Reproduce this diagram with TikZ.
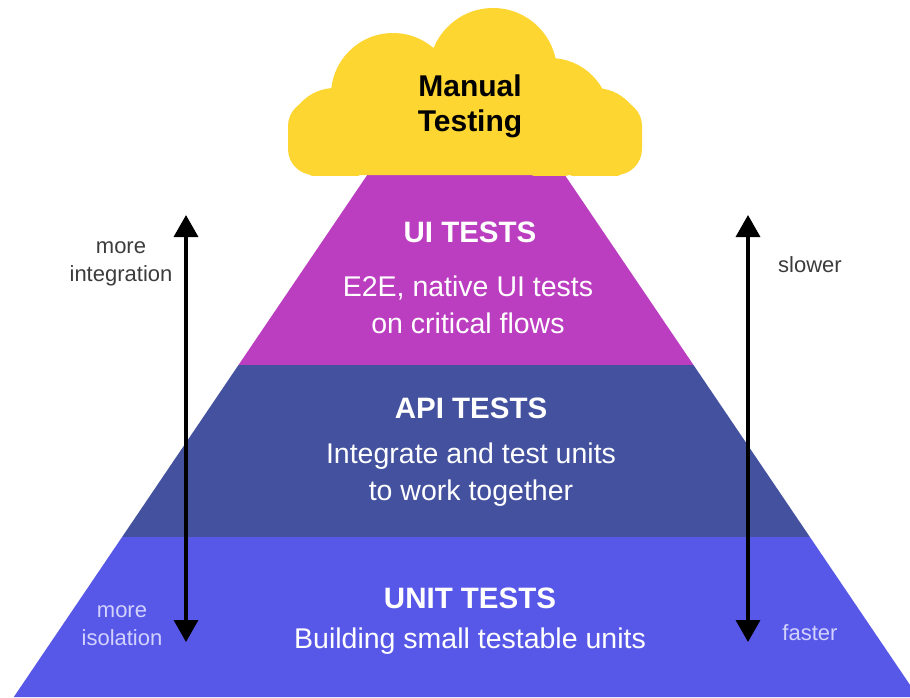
\documentclass[tikz,border=0pt]{standalone}
\usepackage{fontspec}
\setmainfont{Liberation Sans}
\definecolor{cloudyellow}{RGB}{253,214,50}
\definecolor{uimagenta}{RGB}{187,61,192}
\definecolor{apinavy}{RGB}{67,81,158}
\definecolor{unitblue}{RGB}{88,88,232}
\definecolor{sidegray}{RGB}{60,60,60}
\definecolor{sidelilac}{RGB}{210,210,255}
\tikzset{
    layertitle/.style={font=\bfseries\fontsize{29.5}{32}\selectfont, text=white},
    layertext/.style={font=\fontsize{28.5}{37}\selectfont, text=white, align=center},
    cloudtext/.style={font=\bfseries\fontsize{30}{35}\selectfont, text=black, align=center},
    sidelabel/.style={font=\fontsize{22}{28}\selectfont, align=center},
    scalearrow/.style={line width=3.5pt, {Triangle[width=24pt,length=22pt]}-{Triangle[width=24pt,length=22pt]}},
}
\usetikzlibrary{arrows.meta}
\usetikzlibrary{positioning}

\begin{document}
\begin{tikzpicture}[x=1pt,y=-1pt]
\useasboundingbox (0,0) rectangle (910,697);
\clip (0,0) rectangle (910,697);
% pyramid layers
\fill[uimagenta] (367.2,175) -- (564.8,175) -- (693.5,365) -- (238.5,365) -- cycle;
\fill[apinavy] (238.5,365) -- (693.5,365) -- (809.9,537) -- (122.1,537) -- cycle;
\fill[unitblue] (122.1,537) -- (809.9,537) -- (918.2,697) -- (13.8,697) -- cycle;
% cloud
\begin{scope}
\clip (280,0) rectangle (650,175);
\fill[cloudyellow, rounded corners=26pt] (288,100) rectangle (642,175);
\fill[cloudyellow] (335,135) circle (47) (393,95) circle (62) (493,72) circle (64)
    (550,118) circle (60) (595,135) circle (47);
\end{scope}
\node[cloudtext] (manual) at (470,106) {Manual\\Testing};
% layer texts
\node[layertitle] (uititle) at (470,232) {UI TESTS};
\node[layertext] (uitext) at (468,305) {E2E, native UI tests\\on critical flows};
\node[layertitle] (apititle) at (471,408) {API TESTS};
\node[layertext] (apitext) at (471,475) {Integrate and test units\\to work together};
\node[layertitle] (unittitle) at (470,598) {UNIT TESTS};
\node[layertext] (unittext) at (470,641) {Building small testable units};
% scale arrows
\coordinate (leftTop) at (186,215);
\coordinate (leftBot) at (186,642);
\coordinate (rightTop) at (748,215);
\coordinate (rightBot) at (748,642);
\draw[scalearrow] (leftTop) -- (leftBot);
\draw[scalearrow] (rightTop) -- (rightBot);
\node[sidelabel, text=sidegray] (integration) at (121,264) {more\\integration};
\node[sidelabel, text=sidelilac] (isolation) at (122,626) {more\\isolation};
\node[sidelabel, text=sidegray] (slower) at (810,265) {slower};
\node[sidelabel, text=sidelilac] (faster) at (810,633) {faster};
\end{tikzpicture}
\end{document}
